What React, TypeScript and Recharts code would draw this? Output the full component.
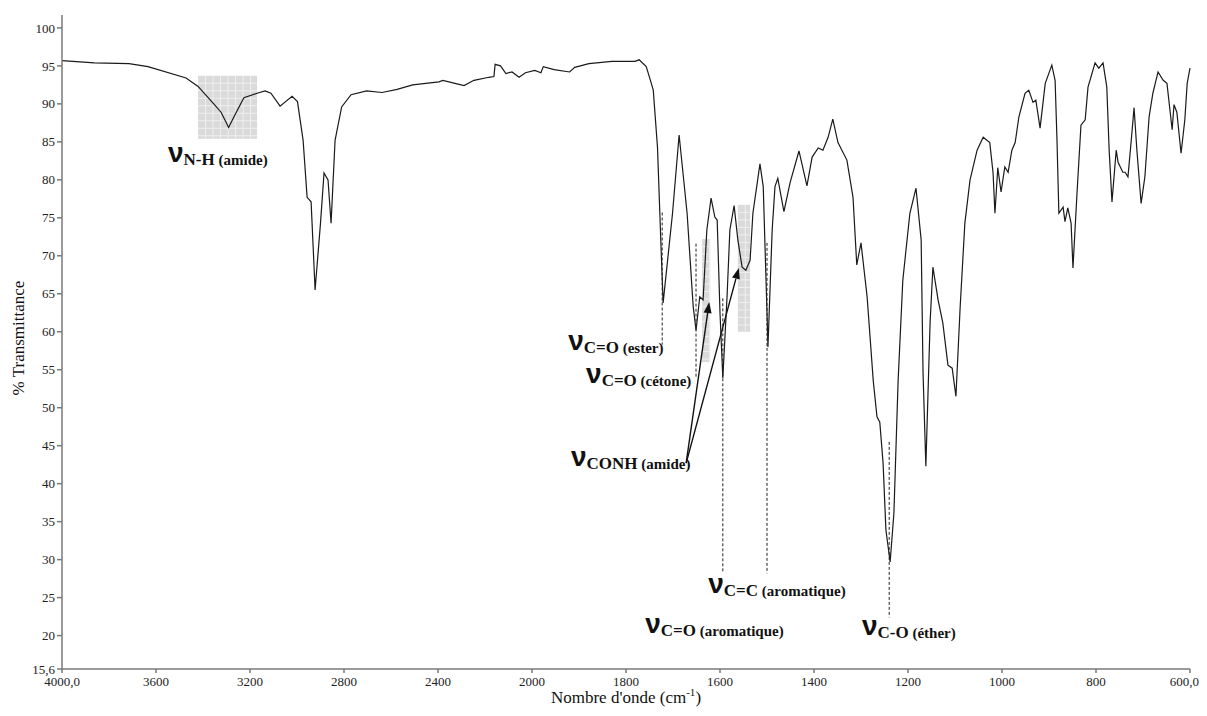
import {
  LineChart,
  Line,
  XAxis,
  YAxis,
  ReferenceLine,
  ReferenceArea,
  ReferenceDot,
} from 'recharts'

// IR spectrum (cm-1, % transmittance)
const WAVENUMBERS = [
  4000, 3862, 3715, 3634, 3472, 3421, 3357, 3323, 3291, 3260, 3226, 3170, 3136, 3111, 3072, 3021, 2998,
  2974, 2957, 2940, 2923, 2900, 2885, 2868, 2855, 2838, 2810, 2770, 2704, 2638, 2574, 2508, 2396, 2379,
  2328, 2289, 2247, 2183, 2162, 2157, 2134, 2111, 2085, 2055, 2028, 1994, 1981, 1976, 1953, 1920, 1909,
  1879, 1830, 1781, 1772, 1757, 1748, 1742, 1733, 1725, 1721, 1701, 1687, 1670, 1657, 1651, 1643, 1636,
  1628, 1619, 1611, 1606, 1600, 1594, 1585, 1579, 1570, 1562, 1553, 1545, 1536, 1530, 1515, 1508, 1500,
  1498, 1489, 1483, 1477, 1464, 1451, 1432, 1415, 1404, 1391, 1381, 1370, 1360, 1349, 1330, 1317, 1309,
  1300, 1287, 1274, 1266, 1260, 1253, 1247, 1238, 1230, 1221, 1211, 1196, 1183, 1172, 1168, 1162, 1153,
  1147, 1136, 1126, 1115, 1106, 1098, 1089, 1079, 1068, 1053, 1040, 1026, 1019, 1015, 1009, 1002, 994,
  987, 979, 972, 964, 951, 943, 934, 928, 919, 908, 894, 887, 883, 879, 870, 866, 860, 853, 849, 840, 832,
  823, 817, 802, 794, 785, 777, 772, 766, 757, 753, 743, 738, 732, 725, 719, 713, 704, 696, 687, 679, 668,
  657, 649, 638, 634, 628, 619, 611, 606, 600,
]

const TRANSMITTANCE = [
  95.7, 95.4, 95.3, 94.9, 93.4, 92.3, 90.1, 88.9, 86.9, 88.8, 90.8, 91.4, 91.7, 91.4, 89.7, 91.0, 90.3,
  85.2, 77.7, 77.1, 65.5, 74.3, 80.9, 80.0, 74.3, 85.2, 89.6, 91.2, 91.7, 91.5, 91.9, 92.5, 92.9, 93.1,
  92.7, 92.4, 93.1, 93.5, 93.6, 95.2, 95.0, 94.0, 94.2, 93.5, 94.1, 94.4, 94.1, 94.9, 94.5, 94.2, 94.8,
  95.3, 95.6, 95.6, 95.8, 94.9, 93.1, 91.8, 84.3, 70.4, 63.8, 75.6, 85.9, 75.6, 63.3, 60.2, 64.6, 64.2,
  73.4, 77.6, 75.1, 74.7, 62.5, 53.9, 64.6, 73.4, 76.6, 72.1, 68.5, 68.1, 69.4, 75.6, 82.1, 79.1, 62.5,
  58.0, 73.4, 79.1, 80.2, 75.8, 79.6, 83.8, 79.2, 83.0, 84.2, 83.9, 85.6, 88.0, 84.9, 82.6, 77.7, 68.8,
  71.7, 64.6, 53.6, 48.8, 48.1, 42.7, 33.9, 29.7, 36.1, 53.6, 66.8, 75.6, 78.9, 72.1, 54.6, 42.3, 61.2,
  68.5, 64.2, 61.2, 55.6, 55.2, 51.5, 63.3, 74.3, 80.0, 83.9, 85.6, 84.9, 80.9, 75.6, 81.6, 78.4, 81.7,
  81.0, 83.9, 84.9, 88.3, 91.4, 91.8, 90.2, 90.5, 86.8, 92.7, 95.1, 93.1, 85.2, 75.6, 76.4, 74.5, 76.3,
  74.3, 68.4, 78.7, 87.2, 87.9, 92.2, 95.4, 94.7, 95.4, 92.2, 83.9, 77.1, 83.9, 82.3, 81.0, 81.0, 80.4,
  85.2, 89.5, 83.9, 76.9, 80.4, 88.3, 91.4, 94.2, 93.1, 92.7, 86.6, 89.9, 88.9, 83.5, 87.9, 92.7, 94.7,
]

const X_TICK_WAVENUMBERS = [4000, 3600, 3200, 2800, 2400, 2000, 1800, 1600, 1400, 1200, 1000, 800, 600]
const Y_TICKS = [15.6, 20, 25, 30, 35, 40, 45, 50, 55, 60, 65, 70, 75, 80, 85, 90, 95, 100]

// dashed marker lines: wavenumber, top %T, bottom %T
const MARKER_LINES = [
  { wn: 1723, top: 75.7, bottom: 58.3 },
  { wn: 1651, top: 71.6, bottom: 54.0 },
  { wn: 1594, top: 64.4, bottom: 28.2 },
  { wn: 1500, top: 71.7, bottom: 28.2 },
  { wn: 1240, top: 45.5, bottom: 22.4 },
]

const SHADED_BANDS = [
  { from: 3421, to: 3170, top: 93.7, bottom: 85.4 },
  { from: 1638, to: 1621, top: 72.2, bottom: 56.0 },
  { from: 1562, to: 1536, top: 76.7, bottom: 60.0 },
]

const ARROW_START = { wn: 1672, t: 42.7 }
const ARROW_TIPS = [
  { wn: 1623, t: 63.9 },
  { wn: 1560, t: 68.4 },
]

const BAND_LABELS = [
  { wn: 3549, t: 82.3, sub: 'N-H', note: '(amide)' },
  { wn: 1923, t: 57.6, sub: 'C=O', note: '(ester)' },
  { wn: 1885, t: 53.2, sub: 'C=O', note: '(cétone)' },
  { wn: 1917, t: 42.3, sub: 'CONH', note: '(amide)' },
  { wn: 1625, t: 25.6, sub: 'C=C', note: '(aromatique)' },
  { wn: 1759, t: 20.3, sub: 'C=O', note: '(aromatique)' },
  { wn: 1298, t: 20.1, sub: 'C-O', note: '(éther)' },
]

// the instrument halves the scale above 2000 cm-1
function toAxis(wn: number): number {
  return wn >= 2000 ? (4000 - wn) / 2 : 1000 + (2000 - wn)
}

function fromAxis(u: number): number {
  return u <= 1000 ? 4000 - 2 * u : 2000 - (u - 1000)
}

const rows = WAVENUMBERS.map((wn, i) => ({ u: toAxis(wn), t: TRANSMITTANCE[i] }))
const xTicks = X_TICK_WAVENUMBERS.map(toAxis)

const SERIF = '"Liberation Serif", "Times New Roman", serif'

function formatX(u: number): string {
  const wn = Math.round(fromAxis(u))
  return wn === 4000 || wn === 600 ? `${wn},0` : String(wn)
}

function formatY(v: number): string {
  return v === 15.6 ? '15,6' : String(v)
}

function XTick(props: any) {
  const { x, y, payload } = props
  const last = payload.value === toAxis(600)
  return (
    <text
      x={last ? x + 9 : x}
      y={y + 2}
      dy="0.71em"
      textAnchor={last ? 'end' : 'middle'}
      fill="#222"
      fontSize={13}
      fontFamily={SERIF}
    >
      {formatX(payload.value)}
    </text>
  )
}

function GridBox(props: any) {
  const { x, y, width, height } = props
  const lines = []
  for (let gx = x + 7.5; gx < x + width; gx += 7.5) {
    lines.push(<line key={`v${gx}`} x1={gx} y1={y} x2={gx} y2={y + height} stroke="#ececec" strokeWidth={1} />)
  }
  for (let gy = y + 7.5; gy < y + height; gy += 7.5) {
    lines.push(<line key={`h${gy}`} x1={x} y1={gy} x2={x + width} y2={gy} stroke="#ececec" strokeWidth={1} />)
  }
  return (
    <g opacity={0.8}>
      <rect x={x} y={y} width={width} height={height} fill="#d2d2d2" />
      {lines}
    </g>
  )
}

function Arrow(props: any) {
  const { x1, y1, x2, y2 } = props
  const dx = x2 - x1
  const dy = y2 - y1
  const len = Math.sqrt(dx * dx + dy * dy)
  const ux = dx / len
  const uy = dy / len
  const head = 11
  const half = 4
  const bx = x2 - ux * head
  const by = y2 - uy * head
  return (
    <g>
      <line x1={x1} y1={y1} x2={bx} y2={by} stroke="#111" strokeWidth={1.4} />
      <polygon
        points={`${x2},${y2} ${bx - uy * half},${by + ux * half} ${bx + uy * half},${by - ux * half}`}
        fill="#111"
      />
    </g>
  )
}

function BandLabel({ cx, cy, sub, note }: { cx: number; cy: number; sub: string; note: string }) {
  return (
    <text x={cx} y={cy} fontFamily={SERIF} fontWeight="bold" fill="#111">
      <tspan fontFamily='"Liberation Sans", Arial, sans-serif' fontSize={28}>
        ν
      </tspan>
      <tspan fontSize={17} dy={3}>
        {sub}
      </tspan>
      <tspan fontSize={15}> {note}</tspan>
    </text>
  )
}

function XTitle(props: any) {
  const { x, y, width, height } = props.viewBox
  return (
    <text x={x + width / 2} y={y + height - 5} textAnchor="middle" fontFamily={SERIF} fontSize={17} fill="#111">
      Nombre d'onde (cm
      <tspan dy={-7} fontSize={11}>
        -1
      </tspan>
      <tspan dy={7}>)</tspan>
    </text>
  )
}

function YTitle(props: any) {
  const { y, height } = props.viewBox
  const cx = 12
  const cy = y + height / 2 - 4
  return (
    <text
      x={cx}
      y={cy}
      textAnchor="middle"
      dominantBaseline="middle"
      transform={`rotate(-90 ${cx} ${cy})`}
      fontFamily={SERIF}
      fontSize={17}
      fill="#111"
    >
      % Transmittance
    </text>
  )
}

export default function App() {
  return (
    <LineChart width={1191} height={700} data={rows} margin={{ top: 7, right: 9, bottom: 0, left: 0 }}>
      <XAxis
        dataKey="u"
        type="number"
        domain={[0, 2400]}
        ticks={xTicks}
        interval={0}
        height={39}
        tickSize={4}
        stroke="#7a7a7a"
        strokeWidth={1.5}
        tick={XTick}
        label={{ content: XTitle }}
      />
      <YAxis
        type="number"
        domain={[15.6, 101.7]}
        ticks={Y_TICKS}
        tickFormatter={formatY}
        interval={0}
        width={54}
        tickSize={5}
        stroke="#7a7a7a"
        strokeWidth={1.5}
        tick={{ fill: '#222', fontSize: 13, fontFamily: SERIF }}
        label={{ content: YTitle }}
      />
      <Line
        type="linear"
        dataKey="t"
        stroke="#1a1a1a"
        strokeWidth={1.2}
        dot={false}
        activeDot={false}
        isAnimationActive={false}
      />
      {SHADED_BANDS.map((b) => (
        <ReferenceArea
          key={b.from}
          x1={toAxis(b.from)}
          x2={toAxis(b.to)}
          y1={b.bottom}
          y2={b.top}
          shape={GridBox}
          ifOverflow="visible"
        />
      ))}
      {MARKER_LINES.map((m) => (
        <ReferenceLine
          key={m.wn}
          segment={[
            { x: toAxis(m.wn), y: m.top },
            { x: toAxis(m.wn), y: m.bottom },
          ]}
          stroke="#222"
          strokeWidth={1}
          strokeDasharray="3 2"
          ifOverflow="visible"
        />
      ))}
      {ARROW_TIPS.map((tip) => (
        <ReferenceLine
          key={tip.wn}
          segment={[
            { x: toAxis(ARROW_START.wn), y: ARROW_START.t },
            { x: toAxis(tip.wn), y: tip.t },
          ]}
          shape={Arrow}
          ifOverflow="visible"
        />
      ))}
      {BAND_LABELS.map((l) => (
        <ReferenceDot
          key={`${l.sub}-${l.note}-${l.wn}`}
          x={toAxis(l.wn)}
          y={l.t}
          r={0}
          ifOverflow="visible"
          shape={(p: any) => <BandLabel cx={p.cx} cy={p.cy} sub={l.sub} note={l.note} />}
        />
      ))}
    </LineChart>
  )
}
